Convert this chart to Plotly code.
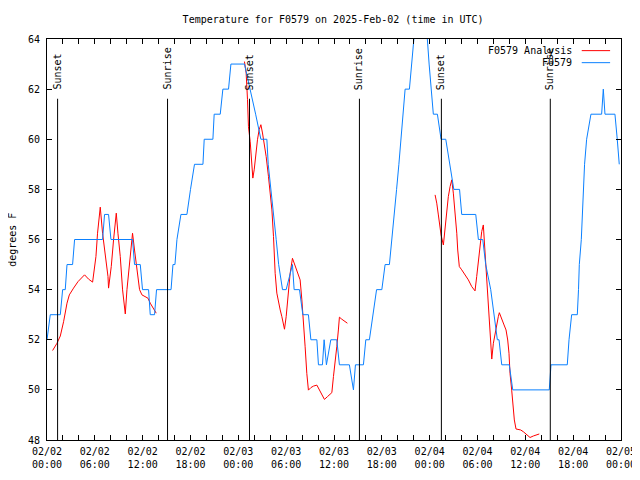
import pandas as pd
import plotly.graph_objects as go

START = pd.Timestamp("2025-02-02 00:00")

# Observed station F0579: hours after 02/02 00:00 UTC, degrees F
obs_hours = [0.00, 0.41, 1.67, 1.96, 2.29, 2.51, 3.21, 3.46, 6.97, 7.22, 7.72, 8.02,
             10.73, 10.98, 11.70, 11.98, 12.74, 12.95, 13.49, 13.74, 15.56, 15.80,
             16.05, 16.30, 16.80, 17.55, 18.00, 18.50, 19.56, 19.72, 20.81, 20.97,
             21.73, 22.06, 22.77, 23.07, 24.77, 25.49, 26.17, 26.83, 27.58, 27.75,
             28.08, 28.50, 28.75, 29.06, 29.54, 30.00, 30.79, 31.00, 31.67, 32.09,
             32.79, 33.10, 33.85, 34.05, 34.55, 34.76, 35.05, 35.60, 36.35, 36.68,
             37.93, 38.44, 38.69, 39.69, 39.99, 40.44, 40.87, 41.34, 42.00, 42.41,
             42.95, 43.22, 43.58, 43.85, 44.14, 44.39, 44.60, 44.92, 45.46, 45.69,
             45.96, 46.30, 47.35, 47.71, 47.93, 48.15, 48.46, 48.97, 49.43, 50.02,
             50.56, 51.03, 51.75, 52.02, 53.78, 54.11, 54.66, 55.03, 55.66, 56.07,
             56.49, 56.70, 57.04, 57.99, 58.42, 63.00, 63.22, 65.26, 65.48, 65.81,
             66.52, 66.67, 66.77, 67.02, 67.14, 67.28, 67.43, 67.69, 68.23, 69.57,
             69.78, 69.99, 71.24, 71.53, 71.78]
obs_temps = [52, 53, 53, 54, 54, 55, 55, 56, 56, 57, 57, 56,
             56, 55, 55, 54, 54, 53, 53, 54, 54, 55,
             55, 56, 57, 57, 58, 59, 59, 60, 60, 61,
             61, 62, 62, 63, 63, 62, 61, 60, 60, 59,
             58, 57, 56, 55, 54, 54, 55, 54, 54, 53,
             53, 52, 52, 51, 51, 52, 51, 52, 52, 51,
             51, 50, 51, 51, 52, 52, 53, 54, 54, 55,
             55, 56, 57, 58, 59, 60, 61, 62, 62, 63,
             64, 65, 65, 64, 63, 62, 61, 61, 60, 60,
             59, 58, 58, 57, 57, 56, 56, 55, 54, 53,
             52, 52, 51, 51, 50, 50, 51, 51, 52, 53,
             53, 54, 55, 56, 57, 58, 59, 60, 61, 61,
             62, 61, 61, 60, 59]

# Analysis (three separate runs)
ana1_hours = [0.70, 1.25, 1.67, 2.08, 2.51, 2.80, 3.33, 3.89, 4.71, 5.21, 5.72, 6.14,
              6.34, 6.56, 6.68, 6.97, 7.31, 7.65, 7.72, 8.06, 8.35, 8.69, 8.90, 9.19,
              9.48, 9.73, 9.82, 10.03, 10.32, 10.57, 10.73, 10.98, 11.28, 11.61, 11.91,
              12.32, 12.66, 12.95, 13.36, 13.70]
ana1_temps = [51.57, 51.86, 52.15, 52.72, 53.46, 53.79, 54.06, 54.32, 54.59, 54.42, 54.30, 55.32,
              56.25, 57.05, 57.29, 56.25, 55.32, 54.52, 54.06, 54.92, 55.99, 57.05, 56.25, 55.32,
              53.99, 53.06, 53.03, 54.00, 55.05, 56.00, 56.25, 55.58, 54.79, 54.00, 53.79,
              53.72, 53.66, 53.46, 53.26, 53.06]

ana2_hours = [24.77, 24.98, 25.15, 25.27, 25.49, 25.61, 25.77, 25.82, 25.99, 26.20, 26.40,
              26.61, 26.83, 27.03, 27.24, 27.49, 27.78, 27.99, 28.21, 28.41, 28.62, 28.83,
              29.03, 29.25, 29.46, 29.66, 29.79, 30.00, 30.21, 30.50, 30.79, 31.00, 31.25,
              31.54, 31.75, 31.97, 32.17, 32.38, 32.59, 32.79, 33.10, 33.42, 33.85, 34.05,
              34.35, 34.80, 35.18, 35.73, 35.93, 36.14, 36.35, 36.55, 36.68, 36.98, 37.40,
              37.68]
ana2_temps = [63.10, 62.64, 61.58, 60.50, 59.90, 59.31, 58.51, 58.45, 58.78, 59.45, 59.98,
              60.38, 60.58, 60.25, 59.85, 59.31, 58.51, 57.85, 57.18, 56.12, 54.65, 53.86,
              53.46, 53.19, 52.92, 52.66, 52.42, 52.92, 53.72, 54.65, 55.25, 55.05, 54.79,
              54.52, 54.39, 53.59, 52.79, 51.72, 50.66, 49.99, 50.09, 50.15, 50.19, 50.06,
              49.86, 49.62, 49.73, 49.89, 50.53, 51.06, 51.72, 52.39, 52.90, 52.82, 52.72,
              52.66]

ana3_hours = [48.68, 48.89, 49.09, 49.30, 49.43, 49.72, 49.93, 50.14, 50.34, 50.56, 50.77,
              50.97, 51.18, 51.40, 51.52, 51.72, 52.02, 52.44, 52.85, 53.28, 53.69, 53.90,
              54.10, 54.32, 54.53, 54.73, 54.82, 54.95, 55.16, 55.36, 55.57, 55.70, 55.79,
              55.99, 56.20, 56.41, 56.61, 56.74, 57.04, 57.33, 57.58, 57.79, 57.95, 58.08,
              58.29, 58.49, 58.62, 58.83, 59.12, 59.42, 59.75, 60.17, 60.59, 61.00, 61.43,
              61.75]
ana3_temps = [57.78, 57.45, 56.98, 56.52, 56.18, 55.78, 56.52, 57.18, 57.71, 58.11, 58.38,
              57.85, 57.18, 56.25, 55.58, 54.92, 54.79, 54.59, 54.39, 54.12, 53.95, 54.52,
              55.19, 55.85, 56.32, 56.58, 56.12, 55.45, 54.52, 53.59, 52.52, 51.59, 51.23,
              51.86, 52.26, 52.66, 52.92, 53.08, 52.79, 52.59, 52.39, 51.99, 51.46, 50.66,
              49.99, 49.33, 48.80, 48.44, 48.42, 48.40, 48.33, 48.20, 48.10, 48.16, 48.20,
              48.24]

sunset_hours = [1.33, 25.40, 49.47]
sunrise_hours = [15.12, 39.19, 63.13]

x_tick_hours = list(range(0, 73, 2))
x_label_hours = [0, 6, 12, 18, 24, 30, 36, 42, 48, 54, 60, 66, 72]
x_tick_labels = ["02/02<br>00:00", "02/02<br>06:00", "02/02<br>12:00", "02/02<br>18:00",
                 "02/03<br>00:00", "02/03<br>06:00", "02/03<br>12:00", "02/03<br>18:00",
                 "02/04<br>00:00", "02/04<br>06:00", "02/04<br>12:00", "02/04<br>18:00",
                 "02/05<br>00:00"]
y_ticks = [48, 50, 52, 54, 56, 58, 60, 62, 64]


def to_time(hours):
    return [None if h is None else START + pd.Timedelta(hours=h) for h in hours]


ana_hours = ana1_hours + [None] + ana2_hours + [None] + ana3_hours
ana_temps = ana1_temps + [None] + ana2_temps + [None] + ana3_temps

FONT = "DejaVu Sans Mono"
RED = "#ff0000"
BLUE = "#0a80ff"

fig = go.Figure()
fig.add_trace(go.Scatter(x=to_time(ana_hours), y=ana_temps, mode="lines",
                         name="F0579 Analysis", line=dict(color=RED, width=1),
                         connectgaps=False))
fig.add_trace(go.Scatter(x=to_time(obs_hours), y=obs_temps, mode="lines",
                         name="F0579", line=dict(color=BLUE, width=1)))

label_map = dict(zip(x_label_hours, x_tick_labels))
tickvals = to_time(x_tick_hours)
ticktext = [label_map.get(h, "") for h in x_tick_hours]

shapes = []
annotations = []
for kind, hours in (("Sunset", sunset_hours), ("Sunrise", sunrise_hours)):
    for h in hours:
        t = START + pd.Timedelta(hours=h)
        shapes.append(dict(type="line", xref="x", yref="paper", x0=t, x1=t,
                           y0=0, y1=0.851, line=dict(color="black", width=1)))
        annotations.append(dict(text=kind, xref="x", yref="paper", x=t, y=0.868,
                                xanchor="center", yanchor="bottom", textangle=-90,
                                showarrow=False, font=dict(family=FONT, size=10, color="black")))

# legend (gnuplot style: text right-aligned, sample on the right)
for name, color, yy in (("F0579 Analysis", RED, 0.971), ("F0579", BLUE, 0.941)):
    annotations.append(dict(text=name, xref="paper", yref="paper", x=0.918, y=yy,
                            xanchor="right", yanchor="middle", showarrow=False,
                            font=dict(family=FONT, size=10, color="black")))
    shapes.append(dict(type="line", xref="paper", yref="paper", x0=0.9316, x1=0.981,
                       y0=yy, y1=yy, line=dict(color=color, width=1)))

annotations.append(dict(text="degrees F", xref="paper", yref="paper", x=-0.0604, y=0.5,
                        xanchor="center", yanchor="middle", textangle=-90, showarrow=False,
                        font=dict(family=FONT, size=10, color="black")))

# The page body has an 8px margin, so the figure is 8px smaller on each axis.
fig.update_layout(
    width=632, height=472,
    margin=dict(l=39, r=19, t=31, b=40),
    paper_bgcolor="white", plot_bgcolor="white",
    font=dict(family=FONT, size=10, color="black"),
    title=dict(text="Temperature for F0579 on 2025-Feb-02 (time in UTC)",
               xref="paper", x=0.4985, xanchor="center",
               yref="container", y=0.975, yanchor="middle",
               font=dict(family=FONT, size=10, color="black")),
    showlegend=False,
    shapes=shapes,
    annotations=annotations,
    xaxis=dict(type="date", range=[START, START + pd.Timedelta(hours=72)],
               tickmode="array", tickvals=tickvals, ticktext=ticktext,
               ticks="inside", ticklen=5, tickcolor="black", tickwidth=1,
               showline=True, linecolor="black", linewidth=1, mirror="ticks",
               showgrid=False, zeroline=False, tickangle=0, automargin=False,
               ticklabelstandoff=2,
               tickfont=dict(family=FONT, size=10, color="black")),
    yaxis=dict(range=[48, 64], tickmode="array", tickvals=y_ticks,
               ticks="inside", ticklen=5, tickcolor="black", tickwidth=1,
               showline=True, linecolor="black", linewidth=1, mirror="ticks",
               showgrid=False, zeroline=False, automargin=False,
               ticklabelstandoff=4,
               tickfont=dict(family=FONT, size=10, color="black")),
)

fig.write_html("out.html")
